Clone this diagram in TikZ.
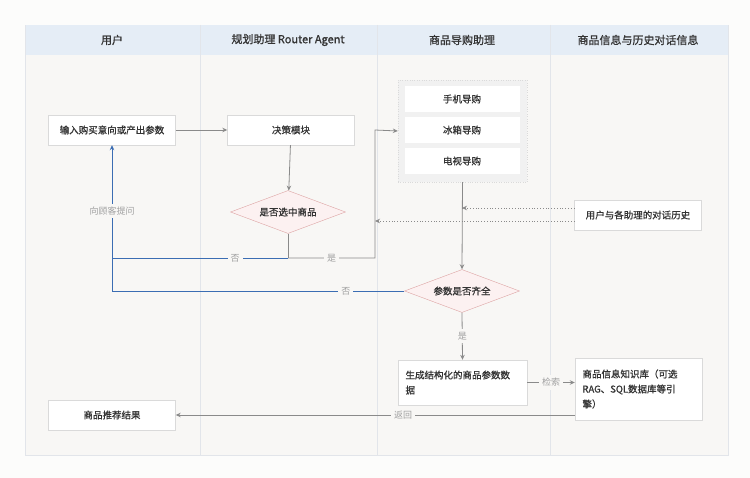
\documentclass[tikz,border=0pt]{standalone}
\usepackage{fontspec}
\newfontfamily\cjk[AutoFakeBold=0.9]{Noto Sans CJK SC}
\usetikzlibrary{shapes.geometric, arrows.meta}
\definecolor{pagebg}{HTML}{FCFCFB}
\definecolor{lanebg}{HTML}{F8F7F5}
\definecolor{headbg}{HTML}{E5EDF6}
\definecolor{laneline}{HTML}{E2E5EA}
\definecolor{boxline}{HTML}{DADADA}
\definecolor{flow}{HTML}{8A8A8A}
\definecolor{back}{HTML}{3B6DB3}
\definecolor{tag}{HTML}{A0A0A0}
\definecolor{dfill}{HTML}{FCF1F1}
\definecolor{dline}{HTML}{DDA3A3}
\definecolor{grpbg}{HTML}{F1F1F1}
\definecolor{ink}{HTML}{333333}
\tikzset{ b/.style = { rectangle
                     , draw = boxline
                     , fill = white
                     , inner sep    = 6pt
                     , minimum width  = 127pt
                     , minimum height = 30pt
                     },
          d/.style = { diamond
                     , draw = dline
                     , fill = dfill
                     , inner sep    = 0pt
                     , shape aspect = 2.7
                     , minimum width  = 115pt
                     , minimum height = 43pt
                     },
          g/.style = { rectangle
                     , fill = white
                     , inner sep    = 0pt
                     , minimum width  = 115pt
                     , minimum height = 26pt
                     },
          hd/.style = { font = \cjk\bfseries\fontsize{11}{12}\selectfont },
          lbl/.style = { fill = lanebg
                       , text = tag
                       , inner sep = 3pt
                       , font = \cjk\fontsize{9}{10}\selectfont
                       },
          fl/.style = { draw = flow, thick, -{Stealth[length=5pt,width=4.5pt]} },
          bk/.style = { draw = back, thick, -{Stealth[length=5pt,width=4.5pt]} }
        }

\begin{document}
\begin{tikzpicture}[x=1pt, y=-1pt, text=ink,
                    font=\cjk\bfseries\fontsize{9.5}{15}\selectfont]
      \useasboundingbox (0,0) rectangle (750,478);
      \fill[pagebg] (0,0) rectangle (750,478);
      % lanes
      \filldraw[fill=lanebg, draw=laneline] (25,25) rectangle (728,455);
      \fill[headbg] (25.5,25.5) rectangle (727.5,55);
      \foreach \x in {200,377,550} {
        \draw[laneline] (\x,25) -- (\x,455);
      }
      \node[hd] (h1) at (112,40) {用户};
      \node[hd] (h2) at (288,40) {规划助理 Router Agent};
      \node[hd] (h3) at (462,40) {商品导购助理};
      \node[hd] (h4) at (638,40) {商品信息与历史对话信息};

      % nodes
      \node[b] (in)  at (112,130) {输入购买意向或产出参数};
      \node[b] (dec) at (291,130) {决策模块};
      \node[d] (sel) at (288,212) {是否选中商品};
      \node[rectangle, draw=boxline, dotted, fill=grpbg, minimum width=129pt,
            minimum height=102pt] (grp) at (462.5,131) {};
      \node[g] (sj) at (462,99)  {手机导购};
      \node[g] (bx) at (462,130) {冰箱导购};
      \node[g] (ds) at (462,161) {电视导购};
      \node[b] (his) at (638,215) {用户与各助理的对话历史};
      \node[d] (cpt) at (462,291) {参数是否齐全};
      \node[b, minimum width=129pt, minimum height=45pt, text width=114pt,
            align=left] (gen) at (462.5,382.5) {生成结构化的商品参数数\\据};
      \node[b, minimum height=62pt, text width=112pt, align=left]
            (kb) at (638.5,389) {商品信息知识库（可选\\RAG、SQL数据库等引\\擎）};
      \node[b] (res) at (112,415) {商品推荐结果};

      % helper points
      \coordinate (j1) at (288,258);
      \coordinate (j2) at (112,258);
      \coordinate (j3) at (375,258);
      \coordinate (j4) at (375,130);
      \coordinate (j5) at (112,291);
      \coordinate (h5) at (462,208);
      \coordinate (h6) at (375,221);

      % flow
      \draw[fl] (in) -- (dec);
      \draw[fl] (dec) -- (sel);
      \draw[flow, thick] (sel.south) -- (j1);
      \draw[back, thick] (j1) -- node[lbl, pos=0.3] {否} (j2);
      \draw[fl] (j1) -- node[lbl] {是} (j3) -- (j4) -- (grp.west);
      \draw[fl] (grp.south) -- (cpt.north);
      \draw[back, thick] (cpt.west) -- node[lbl, pos=0.2] {否} (j5);
      \draw[bk] (j5) -- node[lbl, pos=0.55] {向顾客提问} (in.south);
      \draw[fl, dotted] (his.west |- h5) -- (h5);
      \draw[fl, dotted] (his.west |- h6) -- (h6);
      \draw[fl] (cpt.south) -- node[lbl] {是} (gen.north);
      \draw[fl] (gen.east) -- node[lbl] {检索} (gen.east -| kb.west);
      \draw[fl] (kb.west |- res.east) -- node[lbl, pos=0.43] {返回} (res.east);
    \end{tikzpicture}
\end{document}
